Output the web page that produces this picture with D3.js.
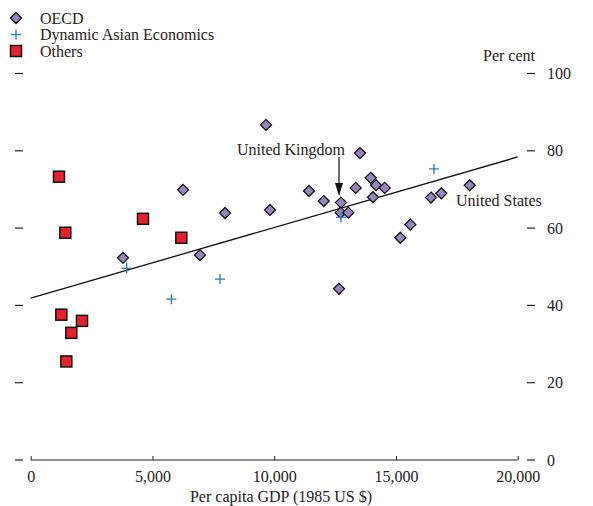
<!DOCTYPE html>
<html>
<head>
<meta charset="utf-8">
<script src="https://cdn.jsdelivr.net/npm/d3@7"></script>
<style>
  body { margin: 0; background: #fff; }
  text { font-family: "Liberation Serif", "DejaVu Serif", serif; fill: #222; }
</style>
</head>
<body>
<svg id="chart"></svg>
<script>
// values: [gdp, percent]
const oecd = [
  [3790, 52.3], [6258, 69.9], [6953, 53.0], [7980, 63.9], [9663, 86.7],
  [9828, 64.7], [11429, 69.6], [12033, 67.0], [12743, 66.6], [12731, 64.0],
  [13043, 64.0], [13347, 70.4], [13523, 79.4], [13963, 73.0], [14181, 71.1],
  [14538, 70.4], [14058, 68.0], [15590, 60.9], [15179, 57.5], [16439, 67.9],
  [16863, 69.0], [18029, 71.1], [12661, 44.3]
]
const asian = [[3941, 49.6], [5775, 41.6], [7774, 46.8], [12743, 62.8], [16563, 75.3]]
const others = [
  [1162, 73.3], [1422, 58.8], [4612, 62.4], [6185, 57.5],
  [1258, 37.6], [2107, 36.0], [1668, 32.9], [1463, 25.5]
]
const trend = [[0, 41.9], [20000, 78.4]]
const xTicks = [0, 5000, 10000, 15000, 20000]
const yTicks = [0, 20, 40, 60, 80, 100]
const legendNames = ['OECD', 'Dynamic Asian Economics', 'Others']

const width = 593, height = 506
const fs = 16
const svg = d3.select('#chart').attr('width', width).attr('height', height)

const x = d3.scaleLinear().domain([0, 20000]).range([30.7, 517.7])
const y = d3.scaleLinear().domain([0, 100]).range([460, 73.5])

const purple = '#9a86bf', blue = '#2b7bba', red = '#e8202c'

// x axis: line with ticks pointing up
const xAxis = d3.axisBottom(x).tickValues(xTicks).tickSize(-4).tickPadding(8)
  .tickFormat(d3.format(','))
const gx = svg.append('g').attr('transform', `translate(0,${y(0)})`).call(xAxis)
gx.select('.domain').attr('d', `M${x(0)},0H${x(20000)}`).attr('stroke', '#222')
gx.selectAll('.tick line').attr('stroke', '#222')
gx.selectAll('.tick text').attr('font-size', fs).attr('fill', '#222')
  .attr('font-family', '"Liberation Serif", serif').attr('y', 11)

// right y axis: detached short dashes with labels
const gyR = svg.append('g').selectAll('g').data(yTicks).join('g')
  .attr('transform', d => `translate(0,${y(d)})`)
gyR.append('line').attr('x1', 527).attr('x2', 535).attr('stroke', '#222').attr('stroke-width', 1.2)
gyR.append('text').attr('x', 547).attr('dy', '0.35em').attr('font-size', fs).text(d => d)

// left y dashes
svg.append('g').selectAll('line').data(yTicks).join('line')
  .attr('x1', 15).attr('x2', 23)
  .attr('y1', d => y(d)).attr('y2', d => y(d))
  .attr('stroke', '#222').attr('stroke-width', 1.2)

svg.append('text').attr('x', 509).attr('y', 61).attr('text-anchor', 'middle')
  .attr('font-size', fs).text('Per cent')

svg.append('text').attr('x', 281).attr('y', 502).attr('text-anchor', 'middle')
  .attr('font-size', fs).text('Per capita GDP (1985 US $)')

// trend line
svg.append('line')
  .attr('x1', x(trend[0][0])).attr('y1', y(trend[0][1]))
  .attr('x2', x(trend[1][0])).attr('y2', y(trend[1][1]))
  .attr('stroke', '#111').attr('stroke-width', 1.3)

function diamond(g) {
  g.append('path').attr('d', 'M0,-5.5L5.5,0L0,5.5L-5.5,0Z')
    .attr('fill', purple).attr('stroke', '#111').attr('stroke-width', 1.3)
}
function square(g) {
  g.append('rect').attr('x', -5.5).attr('y', -5.5).attr('width', 11).attr('height', 11)
    .attr('fill', red).attr('stroke', '#111').attr('stroke-width', 1.5)
}
function plus(g) {
  g.append('path').attr('d', 'M-5,0H5M0,-5V5').attr('stroke', blue).attr('stroke-width', 1.3)
}

svg.append('g').selectAll('g').data(oecd).join('g')
  .attr('transform', d => `translate(${x(d[0])},${y(d[1])})`).call(diamond)
svg.append('g').selectAll('g').data(others).join('g')
  .attr('transform', d => `translate(${x(d[0])},${y(d[1])})`).call(square)
svg.append('g').selectAll('g').data(asian).join('g')
  .attr('transform', d => `translate(${x(d[0])},${y(d[1])})`).call(plus)

// annotations
const uk = oecd[8]
svg.append('text').attr('x', x(uk[0]) + 4).attr('y', 155).attr('text-anchor', 'end')
  .attr('font-size', fs).text('United Kingdom')
svg.append('line').attr('x1', x(uk[0]) - 2).attr('x2', x(uk[0]) - 2)
  .attr('y1', 157).attr('y2', 186).attr('stroke', '#111').attr('stroke-width', 1.2)
svg.append('path')
  .attr('d', `M${x(uk[0]) - 6},183L${x(uk[0]) + 2},183L${x(uk[0]) - 2},196Z`)
  .attr('fill', '#111')
svg.append('text').attr('x', 456).attr('y', 206).attr('font-size', fs).text('United States')

// legend
const leg = svg.append('g').selectAll('g').data(legendNames).join('g')
  .attr('transform', (d, i) => `translate(16,${18 + i * 16.5})`)
leg.each(function (d, i) {
  const g = d3.select(this)
  if (i === 0) diamond(g); else if (i === 1) plus(g); else square(g)
})
leg.append('text').attr('x', 24).attr('dy', '0.35em').attr('font-size', fs).text(d => d)
</script>
</body>
</html>
